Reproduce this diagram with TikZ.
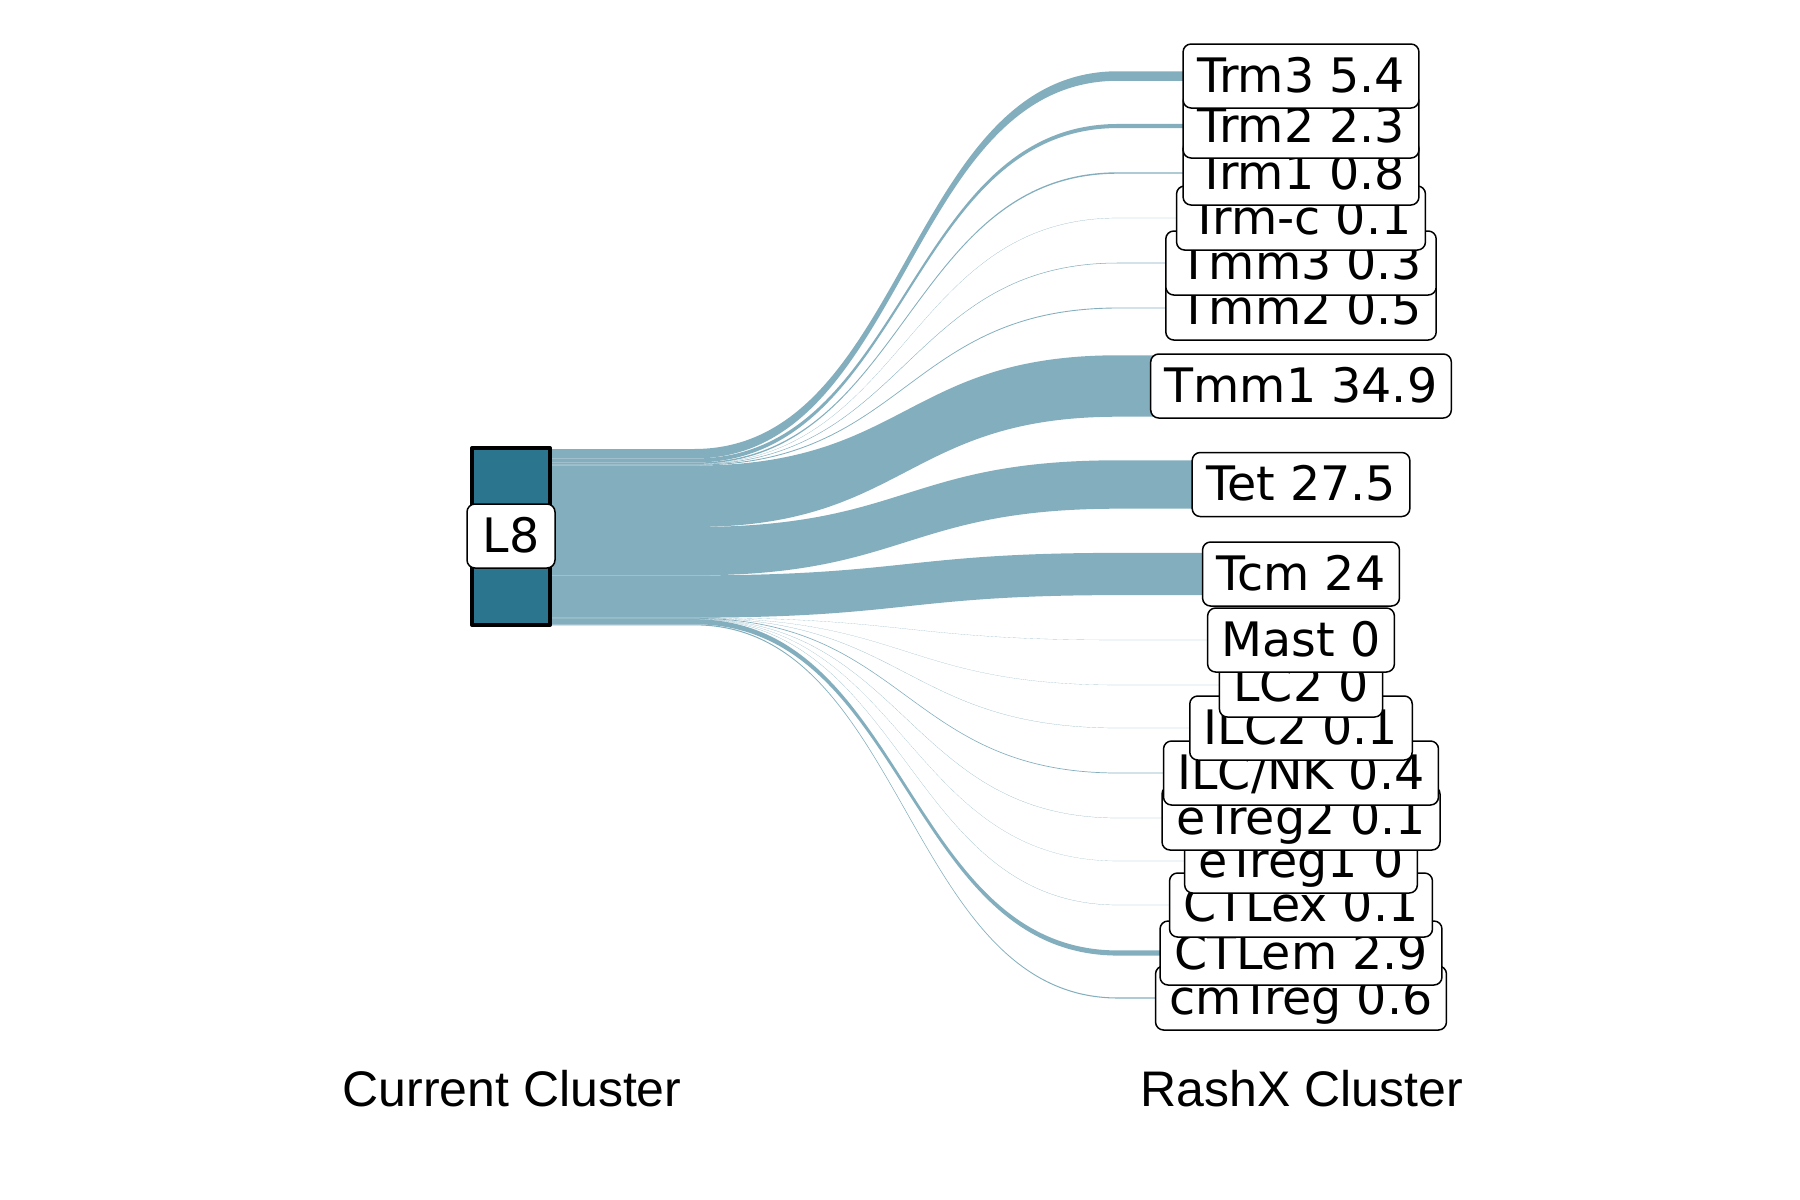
\documentclass[tikz,border=0pt]{standalone}
\usepackage{fontspec}
\newfontfamily\labfont{DejaVu Sans}
\newfontfamily\axfont{Liberation Sans}
\definecolor{stratc}{HTML}{2B758F}
\definecolor{flowc}{HTML}{83AEBD}
\tikzset{
  lab/.style={draw=black, line width=1.5pt, fill=white, rounded corners=8pt,
    inner xsep=14pt, inner ysep=8pt, text height=40pt, text depth=8pt,
    font={\labfont\fontsize{47.5}{56}\selectfont}},
  axlab/.style={font={\axfont\fontsize{50}{58}\selectfont}, inner sep=0pt},
  stratbox/.style={draw=black, line width=4pt, fill=stratc, line join=round, inner sep=0pt},
  flowband/.style={fill=flowc}
}
\begin{document}
\begin{tikzpicture}[x=1pt,y=-1pt]
\useasboundingbox (0,0) rectangle (1800,1200);
% flows
\gdef\ycur{449}
\foreach \pct/\ry in {5.4/76, 2.3/126, 0.8/173, 0.1/218, 0.3/263, 0.5/308, 34.9/386, 27.5/484.5, 24/574, 0.06/640, 0.06/685, 0.1/728, 0.4/773, 0.1/818, 0.06/861, 0.1/905, 2.9/953, 0.6/998}{
  \pgfmathsetmacro\ybot{\ycur+1.76*\pct}
  \pgfmathsetmacro\rt{\ry-0.88*\pct}
  \pgfmathsetmacro\rb{\ry+0.88*\pct}
  \fill[flowband] (551,\ycur) -- (694,\ycur) .. controls (906,\ycur) and (906,\rt) .. (1118,\rt) -- (1262,\rt) -- (1262,\rb) -- (1118,\rb) .. controls (906,\rb) and (906,\ybot) .. (694,\ybot) -- (551,\ybot) -- cycle;
  \xdef\ycur{\ybot}
}
% left stratum
\node[stratbox, minimum width=78pt, minimum height=177pt] (strat) at (511,536.5) {};
\node[lab, minimum width=88pt] (l8) at (511,536) {L8};
% right labels, drawn from bottom to top
\foreach \i/\txt/\y in {18/{cmTreg 0.6}/998, 17/{CTLem 2.9}/953, 16/{CTLex 0.1}/905, 15/{eTreg1 0}/861, 14/{eTreg2 0.1}/818, 13/{ILC/NK 0.4}/773, 12/{ILC2 0.1}/728, 11/{LC2 0}/685, 10/{Mast 0}/640, 9/{Tcm 24}/574, 8/{Tet 27.5}/484.5, 7/{Tmm1 34.9}/386, 6/{Tmm2 0.5}/308, 5/{Tmm3 0.3}/263, 4/{Trm-c 0.1}/218, 3/{Trm1 0.8}/173, 2/{Trm2 2.3}/126, 1/{Trm3 5.4}/76}{
  \node[lab] (r\i) at (1301,\y) {\txt};
}
% axis labels
\node[axlab, anchor=base] (curlab) at (512,1106) {Current Cluster};
\node[axlab, anchor=base] (rashlab) at (1302,1106) {RashX Cluster};
\end{tikzpicture}
\end{document}
